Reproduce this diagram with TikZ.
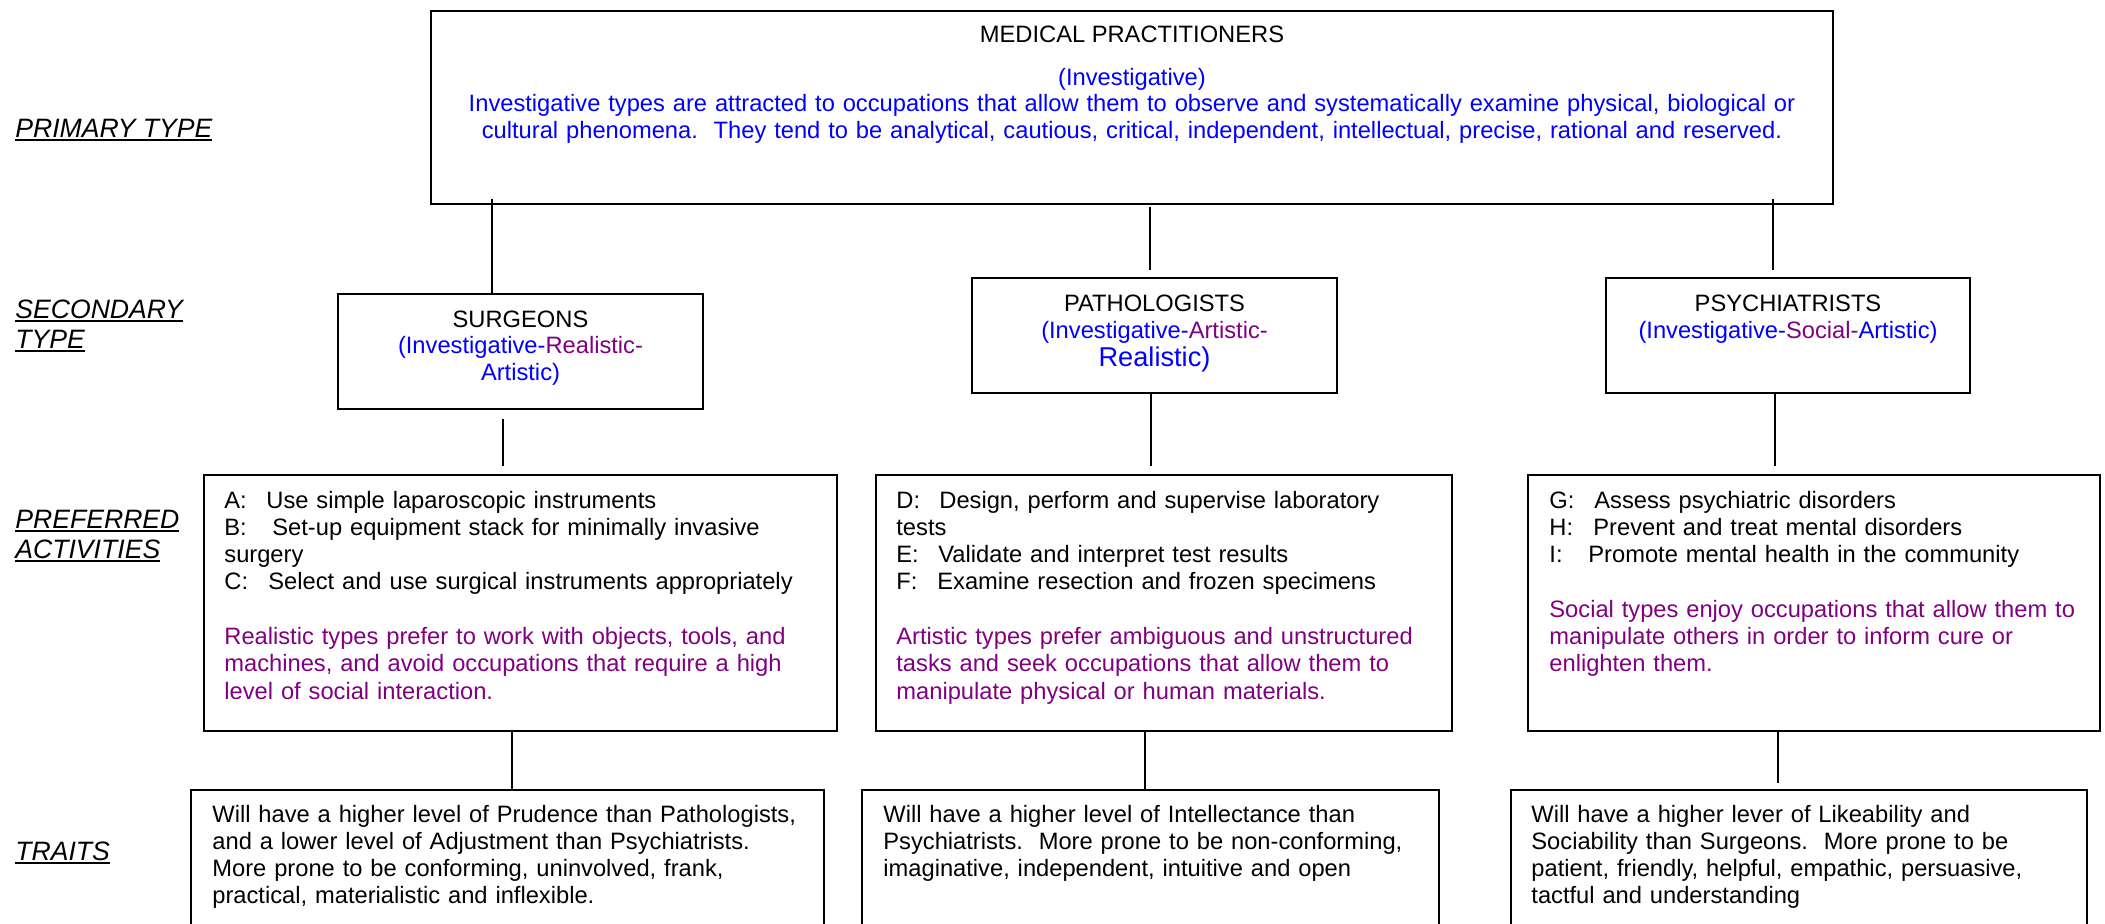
\documentclass[tikz,border=0pt]{standalone}
\usepackage{fontspec}
\setmainfont{Liberation Sans}
\definecolor{typeblue}{RGB}{0,0,255}
\definecolor{typepurple}{RGB}{128,0,128}
\newcommand{\lblline}[1]{\setbox0\hbox{#1}\rlap{\rule[-2pt]{\wd0}{0.9pt}}\box0}
\begin{document}
\begin{tikzpicture}[x=0.5pt, y=-0.5pt,
  box/.style={draw, line width=1.2pt, inner sep=0pt},
  txt/.style={inner sep=0pt, align=left, anchor=base west, font=\fontsize{11.85}{13.65}\selectfont},
  ctxt/.style={inner sep=0pt, align=center, anchor=base, font=\fontsize{11.85}{13.25}\selectfont},
  lbl/.style={inner sep=0pt, align=left, anchor=base west, font=\fontsize{13.3}{15}\selectfont\itshape},
  link/.style={line width=0.7pt}]
\useasboundingbox (0,0) rectangle (2105,923);
% row labels (two-line labels sit on their last baseline)
\node[lbl] (primlbl) at (15,137) {\lblline{PRIMARY TYPE}};
\node[lbl] (seclbl) at (15,348) {\lblline{SECONDARY}\\\lblline{TYPE}};
\node[lbl] (preflbl) at (15,558) {\lblline{PREFERRED}\\\lblline{ACTIVITIES}};
\node[lbl] (traitlbl) at (15,860) {\lblline{TRAITS}};
% boxes
\node[box, minimum width=701pt, minimum height=96.5pt] (top) at (1132,107.5) {};
\node[box, minimum width=182.5pt, minimum height=57.5pt] (surg) at (520.5,351.5) {};
\node[box, minimum width=182.5pt, minimum height=57.5pt] (path) at (1154.5,335.5) {};
\node[box, minimum width=182pt, minimum height=57.5pt] (psych) at (1788,335.5) {};
\node[box, minimum width=316.5pt, minimum height=128pt] (surgact) at (520.5,603) {};
\node[box, minimum width=288pt, minimum height=128pt] (pathact) at (1164,603) {};
\node[box, minimum width=286pt, minimum height=128pt] (psychact) at (1814,603) {};
\node[box, minimum width=316.5pt, minimum height=85pt] (surgtr) at (507.5,875) {};
\node[box, minimum width=288.5pt, minimum height=85pt] (pathtr) at (1150.5,875) {};
\node[box, minimum width=288pt, minimum height=85pt] (psychtr) at (1799,875) {};
% primary type
\node[ctxt] (toptitle) at (1132,42) {MEDICAL PRACTITIONERS};
\node[ctxt, text width=690pt, text=typeblue] (topdesc) at (1132,85) {(Investigative)\\
  Investigative types are attracted to occupations that allow them to observe and systematically examine physical, biological or\\
  cultural phenomena.\ \ They tend to be analytical, cautious, critical, independent, intellectual, precise, rational and reserved.};
% secondary types
\node[ctxt, text width=180pt] (surgtxt) at (520.5,327) {SURGEONS\\
  \textcolor{typeblue}{(Investigative-}\textcolor{typepurple}{Realistic-}\\
  \textcolor{typeblue}{Artistic)}};
\node[ctxt, text width=180pt, font=\fontsize{11.85}{13.5}\selectfont] (pathtxt) at (1154.5,311) {PATHOLOGISTS\\
  \textcolor{typeblue}{(Investigative-}\textcolor{typepurple}{Artistic-}\\[0.5pt]
  \textcolor{typeblue}{\fontsize{13.6}{14}\selectfont Realistic)}};
\node[ctxt, text width=180pt, font=\fontsize{11.85}{13.5}\selectfont] (psychtxt) at (1788,311) {PSYCHIATRISTS\\
  \textcolor{typeblue}{(Investigative-}\textcolor{typepurple}{Social-}\textcolor{typeblue}{Artistic)}};
% preferred activities
\node[txt, text width=305pt] (surgacttxt) at (224,508) {\makebox[21pt][l]{A:}Use simple laparoscopic instruments\\
  \makebox[24pt][l]{B:}Set-up equipment stack for minimally invasive\\
  surgery\\
  \makebox[22pt][l]{C:}Select and use surgical instruments appropriately\\[13.65pt]
  \textcolor{typepurple}{Realistic types prefer to work with objects, tools, and}\\
  \textcolor{typepurple}{machines, and avoid occupations that require a high}\\
  \textcolor{typepurple}{level of social interaction.}};
\node[txt, text width=275pt] (pathacttxt) at (896,508) {\makebox[21.5pt][l]{D:}Design, perform and supervise laboratory\\
  tests\\
  \makebox[21pt][l]{E:}Validate and interpret test results\\
  \makebox[20.5pt][l]{F:}Examine resection and frozen specimens\\[13.65pt]
  \textcolor{typepurple}{Artistic types prefer ambiguous and unstructured}\\
  \textcolor{typepurple}{tasks and seek occupations that allow them to}\\
  \textcolor{typepurple}{manipulate physical or human materials.}};
\node[txt, text width=272pt] (psychacttxt) at (1549,508) {\makebox[22.5pt][l]{G:}Assess psychiatric disorders\\
  \makebox[22pt][l]{H:}Prevent and treat mental disorders\\
  \makebox[19.5pt][l]{I:}Promote mental health in the community\\[13.65pt]
  \textcolor{typepurple}{Social types enjoy occupations that allow them to}\\
  \textcolor{typepurple}{manipulate others in order to inform cure or}\\
  \textcolor{typepurple}{enlighten them.}};
% traits
\node[txt, text width=300pt, font=\fontsize{11.85}{13.5}\selectfont] (surgtrtxt) at (212,822) {Will have a higher level of Prudence than Pathologists,\\
  and a lower level of Adjustment than Psychiatrists.\\
  More prone to be conforming, uninvolved, frank,\\
  practical, materialistic and inflexible.};
\node[txt, text width=275pt, font=\fontsize{11.85}{13.5}\selectfont] (pathtrtxt) at (883,822) {Will have a higher level of Intellectance than\\
  Psychiatrists.\ \ More prone to be non-conforming,\\
  imaginative, independent, intuitive and open};
\node[txt, text width=275pt, font=\fontsize{11.85}{13.5}\selectfont] (psychtrtxt) at (1531,822) {Will have a higher lever of Likeability and\\
  Sociability than Surgeons.\ \ More prone to be\\
  patient, friendly, helpful, empathic, persuasive,\\
  tactful and understanding};
% connectors
\draw[link, shorten <=-3pt] (top.south -| 492,0) -- (surg.north -| 492,0);
\draw[link, shorten <=1pt, shorten >=3.5pt] (top.south -| 1150,0) -- (path.north -| 1150,0);
\draw[link, shorten <=-3pt, shorten >=3.5pt] (top.south -| 1773,0) -- (psych.north -| 1773,0);
\draw[link, shorten <=4.5pt, shorten >=4pt] (surg.south -| 503,0) -- (surgact.north -| 503,0);
\draw[link, shorten >=4pt] (path.south -| 1151,0) -- (pathact.north -| 1151,0);
\draw[link, shorten >=4pt] (psych.south -| 1775,0) -- (psychact.north -| 1775,0);
\draw[link] (surgact.south -| 512,0) -- (surgtr.north -| 512,0);
\draw[link] (pathact.south -| 1145,0) -- (pathtr.north -| 1145,0);
\draw[link, shorten >=3pt] (psychact.south -| 1778,0) -- (psychtr.north -| 1778,0);
\end{tikzpicture}
\end{document}
